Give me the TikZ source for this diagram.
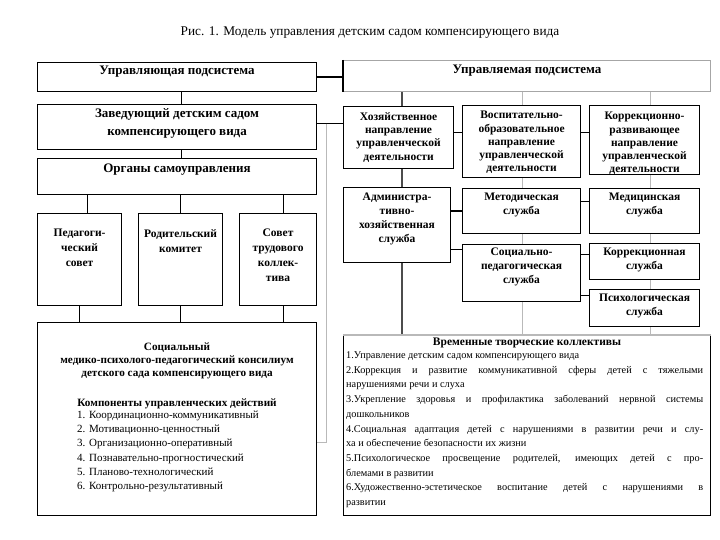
\documentclass[tikz,border=0pt]{standalone}
\usepackage{fontspec}
\setmainfont{Liberation Serif}
\usetikzlibrary{
	positioning,
	backgrounds
}

\tikzset{
	blk/.style={draw, rectangle, line width=1.1pt, fill=white, inner sep=0pt, anchor=north west},
	hdr/.style={anchor=north, align=center, inner sep=0pt, font=\bfseries\fontsize{13}{18}\selectfont},
	sub/.style={anchor=north, align=center, inner sep=0pt, font=\bfseries\fontsize{11.5}{14}\selectfont},
	link/.style={line width=1.1pt},
	glink/.style={gray!55, line width=0.9pt}
}

\begin{document}
\begin{tikzpicture}[x=1pt, y=-1pt]
		\useasboundingbox (0,0) rectangle (720,540);
		
		\node[font=\fontsize{13.3}{15}\selectfont] (title) at (370,33) {Рис. 1. Модель управления детским садом компенсирующего вида};
		
		% Left column
		\node[blk, minimum width=279pt, minimum height=29pt] (ctrl) at (37,62) {};
		\node[hdr, below=4pt of ctrl.north] (ctrlT) {Управляющая подсистема};
		\node[blk, minimum width=279pt, minimum height=45pt] (zav) at (37,104) {};
		\node[hdr, below=4.5pt of zav.north] (zavT) {Заведующий детским садом\\компенсирующего вида};
		\node[blk, minimum width=279pt, minimum height=36pt] (org) at (37,158) {};
		\node[hdr, below=5.5pt of org.north] (orgT) {Органы самоуправления};
		
		\node[blk, minimum width=84pt, minimum height=92pt] (ped) at (37,213) {};
		\node[sub, font=\bfseries\fontsize{11.5}{15}\selectfont, below=16pt of ped.north] (pedT) {Педагоги-\\ческий\\совет};
		\node[blk, minimum width=84pt, minimum height=92pt] (rod) at (138,213) {};
		\node[sub, font=\bfseries\fontsize{11.5}{15}\selectfont, below=16pt of rod.north] (rodT) {Родительский\\комитет};
		\node[blk, minimum width=77pt, minimum height=92pt] (sov) at (239,213) {};
		\node[sub, font=\bfseries\fontsize{11.5}{15}\selectfont, below=16pt of sov.north] (sovT) {Совет\\трудового\\коллек-\\тива};
		
		\node[blk, minimum width=279pt, minimum height=193pt] (soc) at (37,322) {};
		\node[sub, font=\bfseries\fontsize{11.2}{13}\selectfont, below=21pt of soc.north] (socT) {Социальный\\медико-психолого-педагогический консилиум\\детского сада компенсирующего вида};
		\node[sub, font=\bfseries\fontsize{11.2}{13}\selectfont, below=77pt of soc.north] (compT) {Компоненты управленческих действий};
		\node[anchor=north west, align=left, inner sep=0pt, font=\fontsize{11}{14.3}\selectfont] (compL) at (77,410.5) {1. Координационно-коммуникативный\\2. Мотивационно-ценностный\\3. Организационно-оперативный\\4. Познавательно-прогностический\\5. Планово-технологический\\6. Контрольно-результативный};
		
		% Right column
		\node[blk, draw=gray!70, minimum width=367pt, minimum height=31pt] (upr) at (343,60) {};
		\node[hdr, below=5pt of upr.north] (uprT) {Управляемая подсистема};
		
		\node[blk, minimum width=110pt, minimum height=62pt] (khoz) at (343,106) {};
		\node[sub, font=\bfseries\fontsize{11.5}{13.4}\selectfont, below=6pt of khoz.north] (khozT) {Хозяйственное\\направление\\управленческой\\деятельности};
		\node[blk, minimum width=118pt, minimum height=72pt] (vosp) at (462,105) {};
		\node[sub, font=\bfseries\fontsize{11.5}{13.3}\selectfont, below=6pt of vosp.north] (vospT) {Воспитательно-\\образовательное\\направление\\управленческой\\деятельности};
		\node[blk, minimum width=110pt, minimum height=69pt] (korr) at (589,105) {};
		\node[sub, font=\bfseries\fontsize{11.5}{13.3}\selectfont, below=7pt of korr.north] (korrT) {Коррекционно-\\развивающее\\направление\\управленческой\\деятельности};
		
		\node[blk, minimum width=107pt, minimum height=75pt] (admin) at (343,187) {};
		\node[sub, below=6pt of admin.north] (adminT) {Администра-\\тивно-\\хозяйственная\\служба};
		\node[blk, minimum width=118pt, minimum height=45pt] (metod) at (462,188) {};
		\node[sub, below=5pt of metod.north] (metodT) {Методическая\\служба};
		\node[blk, minimum width=110pt, minimum height=45pt] (med) at (589,188) {};
		\node[sub, below=5pt of med.north] (medT) {Медицинская\\служба};
		\node[blk, minimum width=118pt, minimum height=57pt] (sots) at (462,244) {};
		\node[sub, below=4pt of sots.north] (sotsT) {Социально-\\педагогическая\\служба};
		\node[blk, minimum width=110pt, minimum height=36pt] (korsl) at (589,243) {};
		\node[sub, below=5pt of korsl.north] (korslT) {Коррекционная\\служба};
		\node[blk, minimum width=110pt, minimum height=37pt] (psikh) at (589,289) {};
		\node[sub, below=4.5pt of psikh.north] (psikhT) {Психологическая\\служба};
		
		\node[blk, minimum width=367pt, minimum height=180pt] (vrem) at (343,335) {};
		\node[sub, below=3pt of vrem.north] (vremT) {Временные творческие коллективы};
		\node[anchor=north west, inner sep=0pt, text width=357pt, align=justify, font=\fontsize{10.3}{14.7}\selectfont] (vremL) at (346,351.5) {%
			1.Управление детским садом компенсирующего вида\par
			2.Коррекция и развитие коммуникативной сферы детей с тяжелыми\linebreak нарушениями речи и слуха\par
			3.Укрепление здоровья и профилактика заболеваний нервной системы\linebreak дошкольников\par
			4.Социальная адаптация детей с нарушениями в развитии речи и слу-\linebreak ха и обеспечение безопасности их жизни\par
			5.Психологическое просвещение родителей, имеющих детей с про-\linebreak блемами в развитии\par
			6.Художественно-эстетическое воспитание детей с нарушениями в\linebreak развитии};
		
		% Borders
		\draw[link] (upr.north west) -- (upr.south west);
		\draw[glink, line width=1.2pt] (vrem.north west) -- (vrem.north east);
		
		% Left links
		\draw[link] ([xshift=4.5pt]ctrl.south) -- ([xshift=4.5pt]zav.north);
		\draw[link] ([xshift=4.5pt]zav.south) -- ([xshift=4.5pt]org.north);
		\draw[link] ([xshift=8pt]ped.north) -- ([xshift=8pt]ped.north |- org.south);
		\draw[link] (rod.north) -- (rod.north |- org.south);
		\draw[link] ([xshift=5.5pt]sov.north) -- ([xshift=5.5pt]sov.north |- org.south);
		\draw[link] (ped.south) -- (ped.south |- soc.north);
		\draw[link] (rod.south) -- (rod.south |- soc.north);
		\draw[link] ([xshift=5.5pt]sov.south) -- ([xshift=5.5pt]sov.south |- soc.north);
		
		% Links across
		\draw[link] (ctrl.east) -- (ctrl.east -| upr.west);
		\draw[link] ([yshift=3.5pt]zav.east) -- ([yshift=3.5pt]zav.east -| khoz.west);
		\draw[glink] ([yshift=3.5pt]zav.east) ++(9,0) |- ([yshift=-23.5pt]soc.east);
		
		% Right links
		\draw[link] ([yshift=5pt]khoz.east) -- ([yshift=5pt]khoz.east -| vosp.west);
		\draw[link] ([yshift=9pt]vosp.east) -- ([yshift=9pt]vosp.east -| korr.west);
		\draw[link] (metod.west) -- (metod.west -| admin.east);
		\draw[link] ([yshift=23.5pt]sots.west) -- ([yshift=23.5pt]sots.west -| admin.east);
		\draw[link] ([yshift=9.5pt]metod.east) -- ([yshift=9.5pt]metod.east -| med.west);
		\draw[link] ([yshift=7pt]korsl.west) -- ([yshift=7pt]korsl.west -| sots.east);
		\draw[link] ([yshift=12.5pt]psikh.west) -- ([yshift=12.5pt]psikh.west -| sots.east);
		
		% Trunks
		\begin{scope}[on background layer]
			\draw[link, black!70] (upr.south -| 402,0) -- (vrem.north -| 402,0);
			\foreach \tx in {522,650}
			\draw[glink] (upr.south -| \tx,0) -- (vrem.north -| \tx,0);
		\end{scope}
		
	\end{tikzpicture}
\end{document}
